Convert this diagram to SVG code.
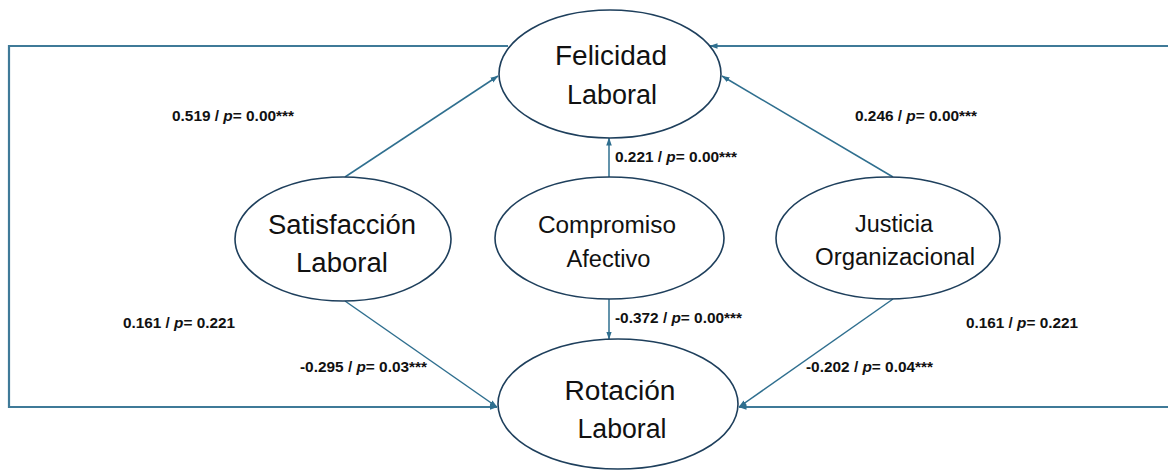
<svg xmlns="http://www.w3.org/2000/svg" width="1168" height="472" viewBox="0 0 1168 472">
<style>
.node ellipse{fill:#fff;stroke:#1e3f5c;stroke-width:1.6}
.nt{font-family:"Liberation Sans",Arial,sans-serif;fill:#111;text-anchor:middle}
.big{font-size:27px}
.mid{font-size:23px}
.lbl{font-family:"Liberation Sans",Arial,sans-serif;font-weight:bold;font-size:15px;fill:#111}
.lbl tspan.i{font-style:italic}
.c{fill:none;stroke:#2f6f8f;stroke-width:1.5}
.loop{fill:none;stroke:#3f7a98;stroke-width:2.2}
</style>
<defs>
<marker id="ah" markerUnits="userSpaceOnUse" markerWidth="8" markerHeight="8" viewBox="0 0 8 8" refX="7.5" refY="4" orient="auto">
<path d="M0,1.2 L8,4 L0,6.8 Z" fill="#2f6f8f"/>
</marker>
</defs>
<rect width="1168" height="472" fill="#fff"/>
<g id="connectors">
<path class="loop" d="M508,46 H9 V407 H497" marker-end="url(#ah)"/>
<path class="loop" d="M1170,46 H710" marker-end="url(#ah)"/>
<path class="loop" d="M1170,407 H739" marker-end="url(#ah)"/>
<line class="c" x1="345" y1="177" x2="498" y2="76" marker-end="url(#ah)"/>
<line class="c" x1="893" y1="177" x2="722" y2="76" marker-end="url(#ah)"/>
<line class="c" x1="609" y1="177" x2="609" y2="138" marker-end="url(#ah)"/>
<line class="c" x1="609" y1="299" x2="609" y2="339" marker-end="url(#ah)"/>
<line class="c" x1="345" y1="301" x2="497" y2="407" marker-end="url(#ah)"/>
<line class="c" x1="893" y1="299" x2="739" y2="407" marker-end="url(#ah)"/>
</g>
<g id="felicidad" class="node">
<ellipse cx="610" cy="74" rx="111" ry="64"/>
<text class="nt big" x="611" y="65" textLength="112" lengthAdjust="spacingAndGlyphs">Felicidad</text>
<text class="nt big" x="612" y="104" textLength="90" lengthAdjust="spacingAndGlyphs">Laboral</text>
</g>
<g id="satisfaccion" class="node">
<ellipse cx="343" cy="239" rx="108" ry="62"/>
<text class="nt big" x="342" y="234" textLength="148" lengthAdjust="spacingAndGlyphs">Satisfacción</text>
<text class="nt big" x="342" y="272" textLength="92" lengthAdjust="spacingAndGlyphs">Laboral</text>
</g>
<g id="compromiso" class="node">
<ellipse cx="609.5" cy="238" rx="114.5" ry="61"/>
<text class="nt mid" x="607" y="233" textLength="138" lengthAdjust="spacingAndGlyphs">Compromiso</text>
<text class="nt mid" x="608.5" y="267" textLength="84" lengthAdjust="spacingAndGlyphs">Afectivo</text>
</g>
<g id="justicia" class="node">
<ellipse cx="888" cy="238" rx="112" ry="61"/>
<text class="nt mid" x="894" y="232" textLength="78" lengthAdjust="spacingAndGlyphs">Justicia</text>
<text class="nt mid" x="895" y="265" textLength="160" lengthAdjust="spacingAndGlyphs">Organizacional</text>
</g>
<g id="rotacion" class="node">
<ellipse cx="618" cy="404" rx="120" ry="65"/>
<text class="nt big" x="620" y="400" textLength="111" lengthAdjust="spacingAndGlyphs">Rotación</text>
<text class="nt big" x="622" y="438" textLength="89" lengthAdjust="spacingAndGlyphs">Laboral</text>
</g>
<g id="labels">
<text class="lbl" x="172" y="121" textLength="122" lengthAdjust="spacingAndGlyphs">0.519 / <tspan class="i">p</tspan>= 0.00***</text>
<text class="lbl" x="615" y="162" textLength="122" lengthAdjust="spacingAndGlyphs">0.221 / <tspan class="i">p</tspan>= 0.00***</text>
<text class="lbl" x="855" y="121" textLength="122" lengthAdjust="spacingAndGlyphs">0.246 / <tspan class="i">p</tspan>= 0.00***</text>
<text class="lbl" x="123" y="328" textLength="112" lengthAdjust="spacingAndGlyphs">0.161 / <tspan class="i">p</tspan>= 0.221</text>
<text class="lbl" x="615" y="323" textLength="127" lengthAdjust="spacingAndGlyphs">-0.372 / <tspan class="i">p</tspan>= 0.00***</text>
<text class="lbl" x="966" y="328" textLength="112" lengthAdjust="spacingAndGlyphs">0.161 / <tspan class="i">p</tspan>= 0.221</text>
<text class="lbl" x="300" y="372" textLength="127" lengthAdjust="spacingAndGlyphs">-0.295 / <tspan class="i">p</tspan>= 0.03***</text>
<text class="lbl" x="806" y="372" textLength="127" lengthAdjust="spacingAndGlyphs">-0.202 / <tspan class="i">p</tspan>= 0.04***</text>
</g>
</svg>
